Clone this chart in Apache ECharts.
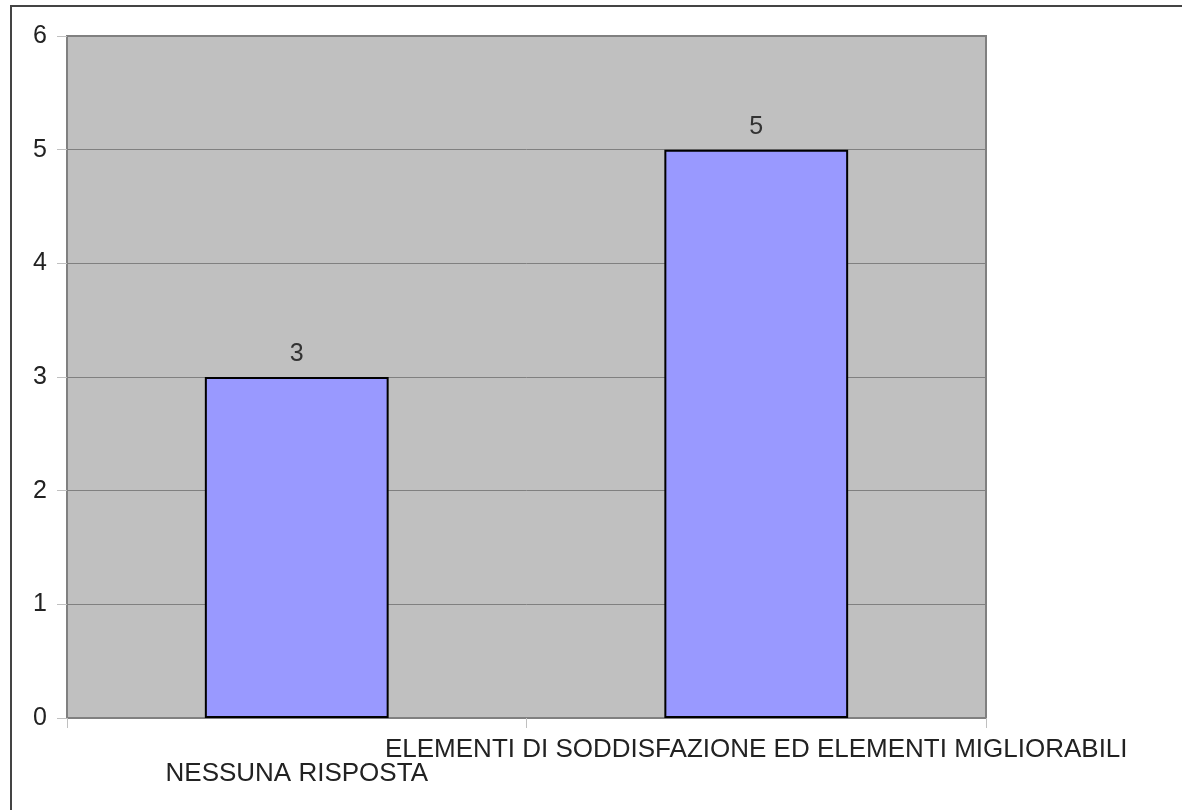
<!DOCTYPE html>
<html>
<head>
<meta charset="utf-8">
<script src="https://cdn.jsdelivr.net/npm/echarts@6/dist/echarts.min.js"></script>
<style>
html,body{margin:0;padding:0;background:#fff;}
#frame{position:absolute;left:10px;top:5px;width:1200px;height:830px;border-left:2px solid #444;border-top:2px solid #444;box-sizing:border-box;}
#chart{position:absolute;left:0;top:0;width:1182px;height:810px;}
</style>
</head>
<body>
<div id="frame"></div>
<div id="chart"></div>
<script>
const categories = ['NESSUNA RISPOSTA', 'ELEMENTI DI SODDISFAZIONE ED ELEMENTI MIGLIORABILI'];
const values = [3, 5];
const yTicks = [0, 1, 2, 3, 4, 5, 6];

const chart = echarts.init(document.getElementById('chart'));
chart.setOption({
  animation: false,
  textStyle: {fontFamily: 'Liberation Sans'},
  grid: {left: 67, top: 36, right: 196, bottom: 92, show: true, backgroundColor: '#c0c0c0', borderColor: '#808080', borderWidth: 2},
  xAxis: {
    type: 'category',
    data: categories,
    axisLine: {show: false},
    axisTick: {show: true, length: 10, lineStyle: {color: '#c0c0c0'}},
    axisLabel: {
      interval: 0,
      color: '#222',
      fontSize: 26,
      lineHeight: 24,
      margin: 20,
      formatter: function (v, i) { return i % 2 === 0 ? '\n' + v : v; }
    },
    splitLine: {show: false}
  },
  yAxis: {
    type: 'value',
    min: yTicks[0],
    max: yTicks[yTicks.length - 1],
    interval: 1,
    axisLine: {show: false},
    axisTick: {show: true, length: 10, lineStyle: {color: '#c0c0c0'}},
    axisLabel: {color: '#222', fontSize: 25, margin: 20},
    splitLine: {show: true, lineStyle: {color: '#808080', width: 1}}
  },
  series: [{
    type: 'bar',
    data: values,
    barWidth: '40%',
    itemStyle: {color: '#9999ff', borderColor: '#000', borderWidth: 2},
    label: {show: true, position: 'top', distance: 10, color: '#333', fontSize: 25}
  }]
});
</script>
</body>
</html>
